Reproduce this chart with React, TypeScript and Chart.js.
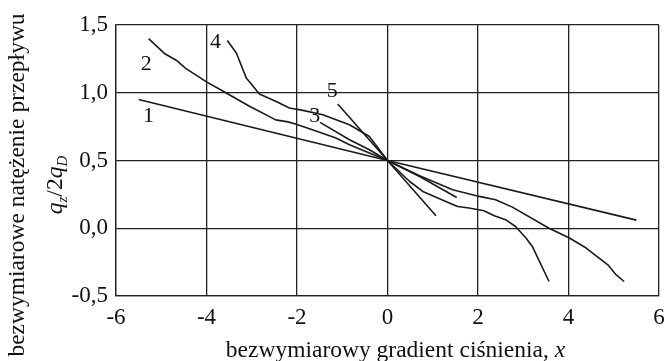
import { useEffect, useRef } from "react";
import { Chart, registerables } from "chart.js";

Chart.register(...registerables);

const FONT = "'Liberation Serif', 'Times New Roman', serif";

const xTickValues = [-6, -4, -2, 0, 2, 4, 6];
const yTickValues = [-0.5, 0, 0.5, 1.0, 1.5];

const line1X = [-5.5, 0, 5.5];
const line1Y = [0.95, 0.5, 0.06];

const line2X = [-5.28, -4.93, -4.67, -4.46, -4.0, -3.65, -3.05, -2.47, -2.2, -2.0, -1.55, -1.14, -0.84, 0, 0.71, 1.44, 2.03, 2.39, 2.76, 3.57, 4.02, 4.39, 4.87, 5.05, 5.23];
const line2Y = [1.40, 1.29, 1.24, 1.18, 1.08, 1.015, 0.90, 0.80, 0.785, 0.765, 0.714, 0.666, 0.616, 0.5, 0.387, 0.284, 0.235, 0.21, 0.156, 0.0, -0.072, -0.146, -0.27, -0.343, -0.393];

const line3X = [-1.49, -0.84, -0.40, 0, 0.71, 1.53];
const line3Y = [0.781, 0.653, 0.579, 0.5, 0.382, 0.227];

const line4X = [-3.54, -3.34, -3.12, -2.83, -2.46, -2.17, -1.87, -1.43, -0.84, -0.40, 0, 0.49, 0.78, 1.29, 1.55, 1.80, 2.13, 2.36, 2.61, 2.83, 3.06, 3.20, 3.57];
const line4Y = [1.386, 1.293, 1.108, 0.99, 0.936, 0.887, 0.87, 0.838, 0.764, 0.677, 0.5, 0.345, 0.272, 0.198, 0.161, 0.149, 0.129, 0.092, 0.063, 0.013, -0.072, -0.134, -0.393];

const line5X = [-1.10, 0, 1.07];
const line5Y = [0.917, 0.5, 0.092];

const curveNames = ["1", "2", "3", "4", "5"];
const curveLabelX = [-5.28, -5.33, -1.61, -3.80, -1.22];
const curveLabelY = [0.825, 1.21, 0.825, 1.37, 1.01];

const xTitleMain = "bezwymiarowy gradient ciśnienia, ";
const xTitleVar = "x";
const yTitleLine1 = "bezwymiarowe natężenie przepływu";

const toPoints = (xs: number[], ys: number[]) => xs.map((x, i) => ({ x, y: ys[i] }));

const textPlugin = {
  id: "customText",
  afterDraw(chart: any) {
    const ctx = chart.ctx as CanvasRenderingContext2D;
    const area = chart.chartArea;
    const xs = chart.scales.x;
    const ys = chart.scales.y;
    ctx.save();
    ctx.fillStyle = "#111";

    // curve labels
    ctx.font = `22px ${FONT}`;
    ctx.textAlign = "center";
    ctx.textBaseline = "middle";
    curveNames.forEach((n, i) => {
      ctx.fillText(n, xs.getPixelForValue(curveLabelX[i]), ys.getPixelForValue(curveLabelY[i]));
    });

    // x title
    ctx.textBaseline = "alphabetic";
    ctx.textAlign = "left";
    const fMain = `23.5px ${FONT}`;
    const fIt = `italic 23.5px ${FONT}`;
    ctx.font = fMain;
    const w1 = ctx.measureText(xTitleMain).width;
    ctx.font = fIt;
    const w2 = ctx.measureText(xTitleVar).width;
    const cx = (area.left + area.right) / 2 + 8;
    const startX = cx - (w1 + w2) / 2;
    ctx.font = fMain;
    ctx.fillText(xTitleMain, startX, 357);
    ctx.font = fIt;
    ctx.fillText(xTitleVar, startX + w1, 357);

    // y title
    const cy = 185;
    ctx.save();
    ctx.translate(24, cy);
    ctx.rotate(-Math.PI / 2);
    ctx.font = fMain;
    ctx.textAlign = "center";
    ctx.fillText(yTitleLine1, 0, 0);
    ctx.restore();

    ctx.save();
    ctx.translate(62, cy);
    ctx.rotate(-Math.PI / 2);
    const sub = `italic 15px ${FONT}`;
    const parts: { t: string; f: string; dy: number }[] = [
      { t: "q", f: fIt, dy: 0 },
      { t: "z", f: sub, dy: 5 },
      { t: "/2", f: fMain, dy: 0 },
      { t: "q", f: fIt, dy: 0 },
      { t: "D", f: sub, dy: 5 },
    ];
    let total = 0;
    const widths = parts.map((p) => {
      ctx.font = p.f;
      const w = ctx.measureText(p.t).width;
      total += w;
      return w;
    });
    let px = -total / 2;
    ctx.textAlign = "left";
    parts.forEach((p, i) => {
      ctx.font = p.f;
      ctx.fillText(p.t, px, p.dy);
      px += widths[i];
    });
    ctx.restore();

    ctx.restore();
  },
};

export default function App() {
  const ref = useRef<HTMLCanvasElement | null>(null);
  useEffect(() => {
    if (!ref.current) return;
    const lineStyle = {
      showLine: true,
      borderColor: "#1a1a1a",
      borderWidth: 1.6,
      pointRadius: 0,
      tension: 0,
      fill: false,
      borderJoinStyle: "round" as const,
    };
    const chart = new Chart(ref.current, {
      type: "scatter",
      data: {
        datasets: [
          { label: "1", data: toPoints(line1X, line1Y), ...lineStyle },
          { label: "2", data: toPoints(line2X, line2Y), ...lineStyle },
          { label: "3", data: toPoints(line3X, line3Y), ...lineStyle },
          { label: "4", data: toPoints(line4X, line4Y), ...lineStyle },
          { label: "5", data: toPoints(line5X, line5Y), ...lineStyle },
        ],
      },
      options: {
        animation: false,
        responsive: true,
        maintainAspectRatio: false,
        layout: { padding: { top: 25, right: 7, left: 0, bottom: 0 } },
        plugins: { legend: { display: false }, tooltip: { enabled: false } },
        scales: {
          x: {
            type: "linear",
            min: -6,
            max: 6,
            afterFit: (s: any) => {
              s.height = 65;
              s.paddingLeft = 0;
              s.paddingRight = 0;
            },
            afterBuildTicks: (s: any) => {
              s.ticks = xTickValues.map((v) => ({ value: v }));
            },
            ticks: {
              autoSkip: false,
              maxRotation: 0,
              padding: 8,
              color: "#111",
              font: { family: FONT, size: 23 },
              callback: (v: any) => String(v),
            },
            grid: { color: "#222", lineWidth: 1.3, drawTicks: false },
            border: { color: "#222", width: 1.3 },
          },
          y: {
            type: "linear",
            min: -0.5,
            max: 1.5,
            afterFit: (s: any) => {
              s.width = 116;
              s.paddingTop = 0;
              s.paddingBottom = 0;
            },
            afterBuildTicks: (s: any) => {
              s.ticks = yTickValues.map((v) => ({ value: v }));
            },
            ticks: {
              autoSkip: false,
              padding: 8,
              color: "#111",
              font: { family: FONT, size: 23 },
              callback: (v: any) => Number(v).toFixed(1).replace(".", ","),
            },
            grid: { color: "#222", lineWidth: 1.3, drawTicks: false },
            border: { color: "#222", width: 1.3 },
          },
        },
      },
      plugins: [textPlugin],
    });
    return () => chart.destroy();
  }, []);
  return (
    <div style={{ position: "fixed", left: 0, top: 0, width: 666, height: 361, background: "#fff" }}>
      <canvas ref={ref} />
    </div>
  );
}
